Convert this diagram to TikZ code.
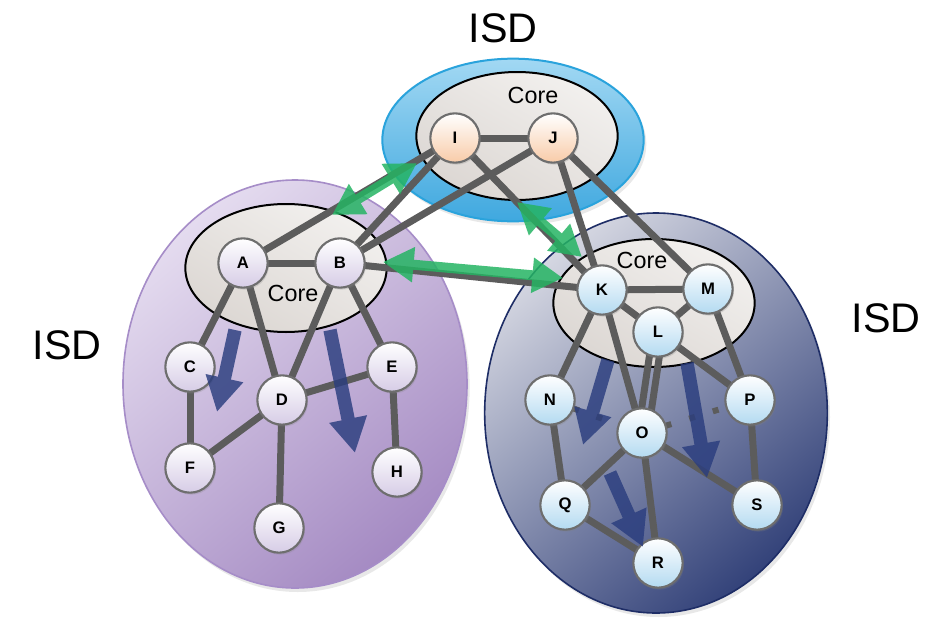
\documentclass[tikz,border=0pt]{standalone}
\usepackage{fontspec}
\setmainfont{Liberation Sans}
\usetikzlibrary{shapes.geometric,arrows.meta,shadows,calc}

\definecolor{edgegray}{HTML}{5C5C5C}
\definecolor{nodeborder}{HTML}{6E6E6E}
\definecolor{lavlight}{HTML}{E4DBEF}
\definecolor{lavdark}{HTML}{A58BC3}
\definecolor{lavborder}{HTML}{A68DC8}
\definecolor{navylight}{HTML}{D4D6E1}
\definecolor{navydark}{HTML}{34437A}
\definecolor{navyborder}{HTML}{1E2D66}
\definecolor{skylight}{HTML}{A2D8F3}
\definecolor{skydark}{HTML}{3FA8DF}
\definecolor{skyborder}{HTML}{2AA3DC}
\definecolor{corelight}{HTML}{F2F0EE}
\definecolor{coredark}{HTML}{DCD7D3}
\definecolor{lavnode}{HTML}{D6CCE6}
\definecolor{peachnode}{HTML}{F8CBA8}
\definecolor{bluenode}{HTML}{B3DAF1}
\definecolor{flowgreen}{HTML}{25B463}
\definecolor{flowblue}{HTML}{2A3D7E}

\begin{document}
\begin{tikzpicture}[x=0.75pt,y=-0.75pt,
  isd/.style={ellipse, line width=1.2pt, inner sep=0pt,
    drop shadow={opacity=0.18, shadow xshift=2pt, shadow yshift=-3pt}},
  isdL/.style={isd, draw=lavborder, minimum width=258pt, minimum height=306pt,
    top color=lavlight, bottom color=lavdark, shading angle=40},
  isdR/.style={isd, draw=navyborder, minimum width=257pt, minimum height=300pt,
    top color=navylight, bottom color=navydark, shading angle=40},
  isdT/.style={isd, draw=skyborder, line width=1.5pt, minimum width=196pt, minimum height=122pt,
    top color=skylight, bottom color=skydark},
  core/.style={ellipse, draw=black, line width=1.5pt, inner sep=0pt,
    minimum width=151pt, minimum height=96pt,
    top color=corelight, bottom color=coredark, shading angle=-30},
  isdlabel/.style={font=\fontsize{31}{31}\selectfont},
  corelabel/.style={font=\fontsize{17.5}{18}\selectfont},
  vertex/.style={circle, draw=nodeborder, line width=1.6pt, minimum size=37pt,
    inner sep=0pt, font=\bfseries\fontsize{12.5}{12.5}\selectfont,
    drop shadow={opacity=0.25, shadow xshift=1pt, shadow yshift=-1.5pt}},
  vL/.style={vertex, top color=white, bottom color=lavnode},
  vT/.style={vertex, top color=white, bottom color=peachnode},
  vR/.style={vertex, top color=white, bottom color=bluenode},
  link/.style={draw=edgegray, line width=5.25pt},
  dotlink/.style={draw=edgegray, line width=4.5pt, dash pattern=on 4.5pt off 14pt},
  greenflow/.style={draw=flowgreen, line width=7.5pt,
    {Triangle[width=25pt,length=23pt]}-{Triangle[width=25pt,length=23pt]}},
  blueflow/.style={draw=flowblue, line width=10pt,
    -{Triangle[width=27pt,length=26pt]}}
]
\useasboundingbox[fill=white] (0,0) rectangle (946,621);

% isolation domains and their cores
\node[isdL] (isdleft) at (295,384) {};
\node[isdR] (isdright) at (656,413) {};
\node[isdT] (isdtop) at (513,140) {};
\node[core] (coreleft) at (286,268) {};
\node[core] (coretop) at (517,136) {};
\node[core] (coreright) at (654,303) {};

\node[isdlabel] (lbltop) at (503,28) {ISD};
\node[isdlabel] (lblleft) at (67,345) {ISD};
\node[isdlabel] (lblright) at (886,318) {ISD};
\node[corelabel] (cltop) at (533,95) {Core};
\node[corelabel] (clleft) at (293,293) {Core};
\node[corelabel] (clright) at (642,260) {Core};

% positions of the ASes
\coordinate (pA) at (243,263); \coordinate (pB) at (340,263);
\coordinate (pC) at (190,367); \coordinate (pD) at (282,400);
\coordinate (pE) at (392,367); \coordinate (pF) at (190,468);
\coordinate (pG) at (279,528); \coordinate (pH) at (397,472);
\coordinate (pI) at (455,138); \coordinate (pJ) at (553,138);
\coordinate (pK) at (602,290); \coordinate (pL) at (658,332);
\coordinate (pM) at (708,289); \coordinate (pN) at (550,400);
\coordinate (pO) at (642,433); \coordinate (pP) at (750,400);
\coordinate (pQ) at (565,505); \coordinate (pR) at (658,563);
\coordinate (pS) at (757,505);

% links
\draw[link] (pA) -- (pB);
\draw[link] (pA) -- (pC);
\draw[link] (pA) -- (pD);
\draw[link] (pB) -- (pD);
\draw[link] (pB) -- (pE);
\draw[link] (pC) -- (pF);
\draw[link] (pD) -- (pF);
\draw[link] (pD) -- (pE);
\draw[link] (pD) -- (pG);
\draw[link] (pE) -- (pH);
\draw[link] (pA) -- (pI);
\draw[link] (pB) -- (pI);
\draw[link] (pB) -- (pJ);
\draw[link] (pI) -- (pJ);
\draw[link] (pI) -- (pK);
\draw[link] (pJ) -- (pK);
\draw[link] (pJ) -- (pM);
\draw[link] (pB) -- (pK);
\draw[link] (pK) -- (pM);
\draw[link] (pK) -- (pL);
\draw[link] (pL) -- (pM);
\draw[link] (pK) -- (pN);
\draw[link] (pK) -- (pO);
\draw[link] ($(pL)+(-5,0)$) -- ($(pO)+(-4,0)$);
\draw[link] ($(pL)+(5,0)$) -- ($(pO)+(6,0)$);
\draw[link] (pL) -- (pP);
\draw[link] (pM) -- (pP);
\draw[link] (pN) -- (pQ);
\draw[link] (pO) -- (pQ);
\draw[link] (pO) -- (pR);
\draw[link] (pO) -- (pS);
\draw[link] (pP) -- (pS);
\draw[link] (pQ) -- (pR);
\draw[dotlink] (pN) -- (pO);
\draw[dotlink] (pO) -- (pP);

% inter-ISD path exchange
\coordinate (g1a) at (332,215); \coordinate (g1b) at (417,163);
\coordinate (g2a) at (517,202); \coordinate (g2b) at (582,257);
\coordinate (g3a) at (383,262); \coordinate (g3b) at (563,278);
\begin{scope}[transparency group, opacity=0.85]
  \draw[greenflow] (g1a) -- (g1b);
  \draw[greenflow] (g2a) -- (g2b);
  \draw[greenflow] (g3a) -- (g3b);
\end{scope}

% ASes
\node[vL] (A) at (pA) {A};
\node[vL] (B) at (pB) {B};
\node[vL] (C) at (pC) {C};
\node[vL] (D) at (pD) {D};
\node[vL] (E) at (pE) {E};
\node[vL] (F) at (pF) {F};
\node[vL] (G) at (pG) {G};
\node[vL] (H) at (pH) {H};
\node[vT] (I) at (pI) {I};
\node[vT] (J) at (pJ) {J};
\node[vR] (K) at (pK) {K};
\node[vR] (L) at (pL) {L};
\node[vR] (M) at (pM) {M};
\node[vR] (N) at (pN) {N};
\node[vR] (O) at (pO) {O};
\node[vR] (P) at (pP) {P};
\node[vR] (Q) at (pQ) {Q};
\node[vR] (R) at (pR) {R};
\node[vR] (S) at (pS) {S};

% intra-ISD beaconing
\coordinate (b1a) at (235,330); \coordinate (b1b) at (217,412);
\coordinate (b2a) at (330,330); \coordinate (b2b) at (355,453);
\coordinate (b3a) at (608,360); \coordinate (b3b) at (583,445);
\coordinate (b4a) at (687,363); \coordinate (b4b) at (707,478);
\coordinate (b5a) at (610,473); \coordinate (b5b) at (643,547);
\begin{scope}[transparency group, opacity=0.82]
  \draw[blueflow] (b1a) -- (b1b);
  \draw[blueflow] (b2a) -- (b2b);
  \draw[blueflow] (b3a) -- (b3b);
  \draw[blueflow] (b4a) -- (b4b);
  \draw[blueflow] (b5a) -- (b5b);
\end{scope}
\end{tikzpicture}
\end{document}
